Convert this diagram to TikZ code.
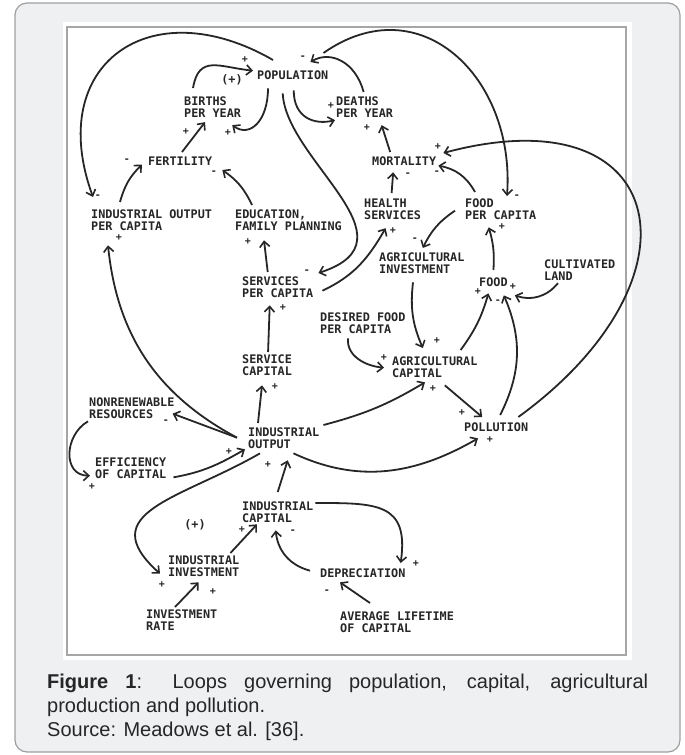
\documentclass[tikz,border=0pt]{standalone}
\usepackage{fontspec}
\setmainfont{Liberation Sans}
\newfontfamily\diafont{DejaVu Sans Mono}
\usetikzlibrary{arrows.meta}
\definecolor{cardbg}{HTML}{EEF0F2}
\definecolor{ink}{HTML}{262626}

\begin{document}
\begin{tikzpicture}[x=1pt, y=1pt,
  lbl/.style={anchor=north west, inner sep=0pt, align=left, text=ink,
    font=\diafont\bfseries\fontsize{11.8}{12}\selectfont},
  sgn/.style={inner sep=0pt, text=ink, font=\diafont\bfseries\fontsize{10}{10}\selectfont},
  arr/.style={draw=ink, line width=1.8pt,
    -{Straight Barb[length=5.5pt, width=10pt, line width=1.6pt]}}]
  \useasboundingbox (0,0) rectangle (685,-755);
  % card and panel
  \filldraw[fill=cardbg, draw=gray!75, line width=1.2pt, rounded corners=12pt]
    (15,-3) rectangle (680,-752);
  \fill[white] (63,-22) rectangle (632,-660);
  \draw[gray!70, line width=1.8pt] (67,-27) rectangle (626,-655);

  % variables
  \node[lbl] (pop) at (257,-71) {POPULATION};
  \node[lbl] (births) at (184,-97) {BIRTHS\\PER YEAR};
  \node[lbl] (deaths) at (336,-97) {DEATHS\\PER YEAR};
  \node[lbl] (fert) at (148,-157) {FERTILITY};
  \node[lbl] (mort) at (372,-157) {MORTALITY};
  \node[lbl] (iopc) at (91,-210) {INDUSTRIAL OUTPUT\\PER CAPITA};
  \node[lbl] (edu) at (235,-210) {EDUCATION,\\FAMILY PLANNING};
  \node[lbl] (health) at (364,-199) {HEALTH\\SERVICES};
  \node[lbl] (fpc) at (465,-199) {FOOD\\PER CAPITA};
  \node[lbl] (agi) at (379,-253) {AGRICULTURAL\\INVESTMENT};
  \node[lbl] (land) at (544,-260) {CULTIVATED\\LAND};
  \node[lbl] (food) at (479,-278) {FOOD};
  \node[lbl] (spc) at (242,-277) {SERVICES\\PER CAPITA};
  \node[lbl] (dfpc) at (320,-313) {DESIRED FOOD\\PER CAPITA};
  \node[lbl] (scap) at (242,-355) {SERVICE\\CAPITAL};
  \node[lbl] (agc) at (392,-357) {AGRICULTURAL\\CAPITAL};
  \node[lbl] (nonr) at (89,-398) {NONRENEWABLE\\RESOURCES};
  \node[lbl] (iout) at (248,-428) {INDUSTRIAL\\OUTPUT};
  \node[lbl] (poll) at (464,-423) {POLLUTION};
  \node[lbl] (eff) at (95,-458) {EFFICIENCY\\OF CAPITAL};
  \node[lbl] (icap) at (242,-502) {INDUSTRIAL\\CAPITAL};
  \node[lbl] (iinv) at (168,-556) {INDUSTRIAL\\INVESTMENT};
  \node[lbl] (depr) at (320,-569) {DEPRECIATION};
  \node[lbl] (irate) at (146,-610) {INVESTMENT\\RATE};
  \node[lbl] (alc) at (340,-612) {AVERAGE LIFETIME\\OF CAPITAL};
  % loop markers
  \node[lbl, anchor=center] (loop1) at (232,-80) {(+)};
  \node[lbl, anchor=center] (loop2) at (195,-525) {(+)};

  % population loops
  \draw[arr] ([xshift=9pt,yshift=9pt]births.north west) to[out=80,in=174,looseness=1.4] ([xshift=-4pt,yshift=5pt]pop.west);
  \draw[arr] ([xshift=11pt,yshift=-8pt]pop.south west) .. controls +(0,-32) and +(18,-13) .. ([xshift=-9pt,yshift=-7pt]births.south east);
  \draw[arr] ([xshift=1pt,yshift=-10pt]pop.south) .. controls +(0,-28) and +(-20,-5) .. ([xshift=-1pt,yshift=-2pt]deaths.south west);
  \draw[arr] ([xshift=-1pt,yshift=5pt]deaths.north) .. controls +(-8,30) and +(20,12) .. ([xshift=-18pt,yshift=9pt]pop.north east);
  \draw[arr] ([xshift=16pt,yshift=11pt]pop.north west) to[out=150,in=110,looseness=1.6] ([xshift=2pt,yshift=13pt]iopc.north west);
  \draw[arr] ([xshift=-5pt,yshift=18pt]pop.north east) to[out=35,in=86,looseness=1.3] ([xshift=42pt,yshift=3pt]fpc.north west);
  \draw[arr] ([xshift=-10pt,yshift=-13pt]pop.south) .. controls +(3,-67) and +(102,33) .. ([xshift=5pt,yshift=4pt]spc.north east);
  \draw[arr] ([xshift=-14pt,yshift=5pt]mort.north) -- ([xshift=17pt,yshift=-7pt]deaths.south);
  \draw[arr] ([xshift=-1pt,yshift=6pt]health.north) -- ([xshift=-11pt,yshift=-6pt]mort.south);
  \draw[arr] ([xshift=10pt,yshift=7pt]fpc.north west) to[bend right=25] ([xshift=2pt,yshift=-4pt]mort.east);
  \draw[arr] ([xshift=-10pt,yshift=6pt]poll.north east) to[out=36,in=15,looseness=2.2] ([xshift=7pt,yshift=4pt]mort.north east);
  \draw[arr] ([xshift=9pt,yshift=-3pt]spc.east) to[out=25,in=-120] ([xshift=-7pt,yshift=-8pt]health.south);
  \draw[arr] ([xshift=29pt,yshift=8pt]iopc.north west) to[bend left=15] ([xshift=-6pt,yshift=-3pt]fert.west);
  \draw[arr] ([xshift=34pt,yshift=5pt]fert.north west) -- ([xshift=21pt,yshift=-4pt]births.south west);
  \draw[arr] ([xshift=17pt,yshift=5pt]edu.north west) to[bend right=15] ([xshift=10pt,yshift=-4pt]fert.south east);
  \draw[arr] ([xshift=-10pt,yshift=5pt]spc.north) -- ([xshift=29pt,yshift=-9pt]edu.south west);
  \draw[arr] ([xshift=1pt,yshift=3pt]scap.north) -- ([xshift=-8pt,yshift=-7pt]spc.south);

  % food and agriculture
  \draw[arr] ([xshift=-10pt,yshift=-1pt]fpc.west) to[bend right=15] ([xshift=1pt,yshift=5pt]agi.north);
  \draw[arr] ([yshift=8pt]food.north) to[bend right=10] ([xshift=-12pt,yshift=-7pt]fpc.south);
  \draw[arr] ([xshift=14pt,yshift=-2pt]land.south west) to[bend left=35] ([xshift=7pt,yshift=-8pt]food.south east);
  \draw[arr] ([xshift=34pt,yshift=-8pt]agi.south west) to[bend right=15] ([xshift=-12pt,yshift=9pt]agc.north);
  \draw[arr] ([xshift=28pt,yshift=-4pt]dfpc.south west) to[out=-95,in=175] ([xshift=-8pt]agc.west);
  \draw[arr] ([xshift=-17pt,yshift=7pt]agc.north east) to[bend right=10] ([xshift=-5pt,yshift=-6pt]food.south);
  \draw[arr] ([xshift=4pt,yshift=8pt]poll.north) to[bend right=25] ([xshift=-4pt,yshift=-8pt]food.south east);
  \draw[arr] ([xshift=10pt,yshift=-7pt]agc.south) -- ([xshift=-14pt,yshift=6pt]poll.north);

  % industrial output
  \draw[arr] ([xshift=-11pt,yshift=1pt]iout.west) to[bend left=28] ([xshift=17pt,yshift=-14pt]iopc.south west);
  \draw[arr] ([xshift=-26pt,yshift=-4pt]iout.south east) to[out=-25,in=-150] ([xshift=14pt,yshift=-6pt]poll.south west);
  \draw[arr] ([xshift=4pt,yshift=3pt]iout.north east) to[bend right=8] ([xshift=33pt,yshift=-4pt]agc.south west);
  \draw[arr] ([xshift=10pt,yshift=5pt]iout.north west) -- ([xshift=20pt,yshift=-9pt]scap.south west);
  \draw[arr] ([xshift=-11pt,yshift=1pt]iout.west) -- ([xshift=-2pt,yshift=-5pt]nonr.east);
  \draw[arr] ([xshift=-1pt,yshift=-2pt]nonr.south west) to[out=-150,in=180,looseness=1.3] ([xshift=-5pt,yshift=-7pt]eff.west);
  \draw[arr] ([xshift=7pt,yshift=2pt]eff.south east) to[out=10,in=-150] ([xshift=-3pt]iout.south west);
  \draw[arr] ([yshift=10pt]icap.north) -- ([xshift=4pt,yshift=-11pt]iout.south);
  \draw[arr] ([xshift=12pt,yshift=-4pt]iout.south west) to[out=-150,in=138,looseness=1.5] ([xshift=-8pt,yshift=-7pt]iinv.west);
  \draw[arr] ([xshift=-9pt,yshift=3pt]iinv.north east) -- ([xshift=15pt,yshift=-1pt]icap.south west);
  \draw[arr] ([xshift=29pt,yshift=3pt]irate.north west) -- ([xshift=-5pt,yshift=-5pt]iinv.south);
  \draw[arr] ([xshift=2pt,yshift=-1pt]icap.north east) to[out=0,in=82,looseness=1.5] ([xshift=-5pt,yshift=6pt]depr.north east);
  \draw[arr] ([xshift=-10pt,yshift=3pt]depr.west) to[bend left=35] ([xshift=-2pt,yshift=-7pt]icap.south);
  \draw[arr] ([xshift=30pt,yshift=9pt]alc.north west) -- ([xshift=20pt,yshift=-4pt]depr.south west);

  % link polarities
  \node[sgn] (s1) at (245,-60) {+};
  \node[sgn] (s2) at (228,-133) {+};
  \node[sgn] (s3) at (331,-106) {+};
  \node[sgn] (s4) at (303,-58) {-};
  \node[sgn] (s5) at (98,-197) {-};
  \node[sgn] (s6) at (517,-197) {-};
  \node[sgn] (s7) at (367,-128) {+};
  \node[sgn] (s8) at (408,-175) {-};
  \node[sgn] (s9) at (437,-173) {-};
  \node[sgn] (s10) at (438,-147) {+};
  \node[sgn] (s11) at (393,-231) {+};
  \node[sgn] (s12) at (307,-272) {-};
  \node[sgn] (s13) at (127,-161) {-};
  \node[sgn] (s14) at (186,-132) {+};
  \node[sgn] (s15) at (214,-173) {-};
  \node[sgn] (s16) at (119,-238) {+};
  \node[sgn] (s17) at (248,-242) {+};
  \node[sgn] (s18) at (283,-308) {+};
  \node[sgn] (s19) at (415,-240) {-};
  \node[sgn] (s20) at (502,-227) {+};
  \node[sgn] (s21) at (513,-287) {+};
  \node[sgn] (s22) at (437,-341) {+};
  \node[sgn] (s23) at (384,-358) {+};
  \node[sgn] (s24) at (478,-292) {+};
  \node[sgn] (s25) at (498,-302) {-};
  \node[sgn] (s26) at (462,-413) {+};
  \node[sgn] (s27) at (490,-440) {+};
  \node[sgn] (s28) at (433,-389) {+};
  \node[sgn] (s29) at (275,-387) {+};
  \node[sgn] (s30) at (166,-422) {-};
  \node[sgn] (s31) at (92,-487) {+};
  \node[sgn] (s32) at (229,-452) {+};
  \node[sgn] (s33) at (268,-465) {+};
  \node[sgn] (s34) at (162,-585) {+};
  \node[sgn] (s35) at (242,-530) {+};
  \node[sgn] (s36) at (213,-592) {+};
  \node[sgn] (s37) at (416,-564) {+};
  \node[sgn] (s38) at (293,-532) {-};
  \node[sgn] (s39) at (327,-592) {-};

  % caption
  \node[anchor=north west, inner sep=0pt, text width=601pt, align=justify, text=ink,
    font=\fontsize{20}{24}\selectfont] (caption) at (47,-674)
    {\textbf{Figure 1}: Loops governing population, capital, agricultural\linebreak
     production and pollution.\\Source: Meadows et al. [36].};
\end{tikzpicture}
\end{document}
